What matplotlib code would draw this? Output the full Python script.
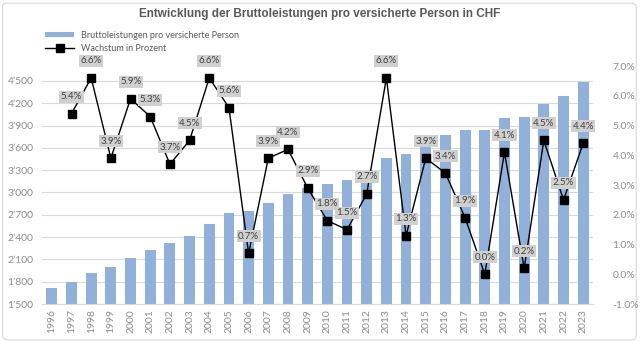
import matplotlib
matplotlib.use("Agg")
import matplotlib.pyplot as plt
from matplotlib.ticker import FuncFormatter, MultipleLocator
from matplotlib.patches import FancyBboxPatch

jahre = [str(j) for j in range(1996, 2024)]
leistungen = [1709, 1801, 1921, 1997, 2117, 2232, 2314, 2418, 2580, 2722,
              2748, 2856, 2976, 3063, 3118, 3162, 3248, 3463, 3511, 3645,
              3770, 3845, 3845, 4000, 4008, 4188, 4295, 4483]
wachstum_jahre = jahre[1:]
wachstum = [5.4, 6.6, 3.9, 5.9, 5.3, 3.7, 4.5, 6.6, 5.6, 0.7, 3.9, 4.2, 2.9,
            1.8, 1.5, 2.7, 6.6, 1.3, 3.9, 3.4, 1.9, 0.0, 4.1, 0.2, 4.5, 2.5,
            4.4]

grau = '#8c8c8c'
plt.rcParams['font.family'] = ['Lato', 'DejaVu Sans']

fig = plt.figure(figsize=(6.4, 3.42), dpi=100)
# Rahmen um das ganze Diagramm
fig.patches.append(FancyBboxPatch((0.004, 0.006), 0.99, 0.985,
                                  boxstyle='round,pad=0,rounding_size=0.01',
                                  transform=fig.transFigure,
                                  facecolor='white', edgecolor='#d9d9d9',
                                  linewidth=0.8, zorder=-1))

ax = fig.add_axes([0.0656, 0.111, 0.861, 0.696])
ax.set_facecolor('none')
x = range(len(jahre))
balken = ax.bar(x, leistungen, width=0.55, color='#92B1DA', zorder=2,
                label='Bruttoleistungen pro versicherte Person')
ax.set_xlim(-0.5, len(jahre) - 0.5)
ax.set_ylim(1500, 4700)
ax.yaxis.set_major_locator(MultipleLocator(300))
ax.yaxis.set_major_formatter(FuncFormatter(
    lambda v, p: f"{int(v):,}".replace(',', "\u2019") if v <= 4500 else ''))
ax.grid(axis='y', color='#d9d9d9', linewidth=0.8, zorder=0)
ax.set_xticks(list(x))
ax.set_xticklabels(jahre, rotation=90)
ax.tick_params(axis='both', length=0, colors=grau, labelsize=7.5)
ax.tick_params(axis='y', pad=6)
for s in ['top', 'left', 'right']:
    ax.spines[s].set_visible(False)
ax.spines['bottom'].set_color('#d9d9d9')

ax2 = ax.twinx()
xl = [jahre.index(j) for j in wachstum_jahre]
linie, = ax2.plot(xl, wachstum, color='black', linewidth=1.0, marker='s',
                  markersize=5.5, zorder=3, label='Wachstum in Prozent')
ax2.set_ylim(-1, 7)
ax2.yaxis.set_major_locator(MultipleLocator(1))
ax2.yaxis.set_major_formatter(FuncFormatter(lambda v, p: f"{v:.1f}%"))
ax2.tick_params(axis='y', length=0, colors=grau, labelsize=7.5, pad=14)
for s in ['top', 'left', 'right', 'bottom']:
    ax2.spines[s].set_visible(False)

for xi, w in zip(xl, wachstum):
    ax2.annotate(f"{w:.1f}%", (xi, w), xytext=(0, 9),
                 textcoords='offset points', ha='center', va='bottom',
                 fontsize=7, color='#404040', zorder=4,
                 bbox=dict(boxstyle='square,pad=0.15', facecolor='#d0d0d0',
                           edgecolor='none'))

fig.text(0.5, 0.96, 'Entwicklung der Bruttoleistungen pro versicherte Person in CHF',
         ha='center', va='center', fontsize=8.5, fontweight='bold',
         color='#595959', family='Liberation Sans')

fig.legend(handles=[balken, linie], loc='upper left',
           bbox_to_anchor=(0.065, 0.92), frameon=False, fontsize=6.5,
           labelcolor='#595959', handlelength=3.2, handleheight=0.5,
           labelspacing=0.45, borderaxespad=0)

fig.savefig('out.png', dpi=100)
